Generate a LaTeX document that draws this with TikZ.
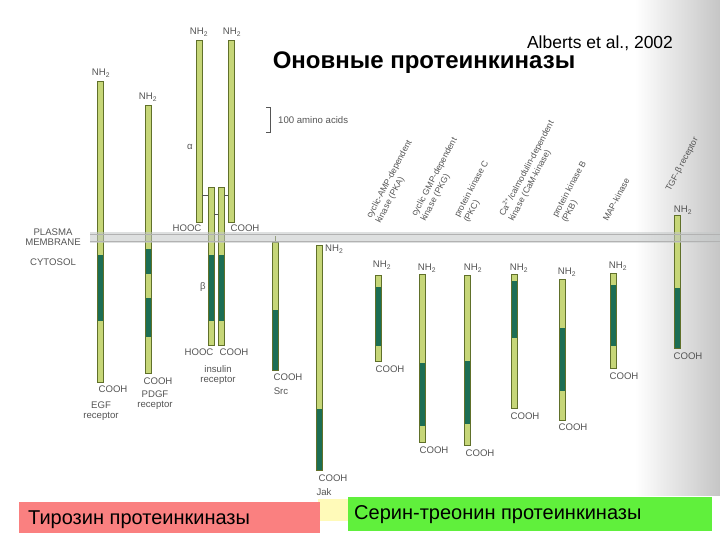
\documentclass[tikz,border=0pt]{standalone}
\usepackage{fontspec}
\setmainfont{Liberation Sans}
\definecolor{lightg}{RGB}{198,214,120}
\definecolor{edgeg}{RGB}{96,112,42}
\definecolor{darkg}{RGB}{28,110,84}
\definecolor{txtg}{RGB}{85,85,85}
\definecolor{redbox}{RGB}{250,128,128}
\definecolor{greenbox}{RGB}{96,240,60}
\definecolor{yellowbox}{RGB}{255,250,185}
\definecolor{membr}{RGB}{196,200,200}
\newcommand\kchain[4]{%
  \fill[lightg] (#1-3,#2) rectangle (#1+3,#3);
  \foreach \a/\b in {#4} {\fill[darkg] (#1-3,\a) rectangle (#1+3,\b);}
  \draw[edgeg, line width=0.6pt] (#1-3,#2) rectangle (#1+3,#3);}
\newcommand\kplain[3]{%
  \fill[lightg] (#1-3,#2) rectangle (#1+3,#3);
  \draw[edgeg, line width=0.6pt] (#1-3,#2) rectangle (#1+3,#3);}
\tikzset{
  lbl/.style={font=\fontsize{9.6}{10.6}\selectfont, text=txtg, inner sep=0pt},
  rlbl/.style={font=\fontsize{8.7}{10.5}\selectfont, text=txtg, inner sep=0pt, rotate=62, anchor=south west, align=left},
  bond/.style={draw=txtg, line width=0.5pt},
  boxtxt/.style={font=\fontsize{20}{22}\selectfont, text=black, inner sep=0pt, anchor=west}
}
\begin{document}
\begin{tikzpicture}[x=1pt,y=-1pt]
\useasboundingbox (0,0) rectangle (720,540);
\fill[white] (0,0) rectangle (720,540);
\shade[left color=white, right color=gray!45] (635,0) rectangle (720,495);
% titles
\node[font=\bfseries\fontsize{24}{27}\selectfont, inner sep=0pt] (title) at (424,63) {Оновные протеинкиназы};
\node[font=\fontsize{17.5}{20}\selectfont, inner sep=0pt] (ref) at (600,43) {Alberts et al., 2002};
% scale bar
\draw[txtg, line width=0.5pt] (266,107) -- (270,107) -- (270,132) -- (266,132);
\node[lbl, anchor=west] (scale) at (278,120) {100 amino acids};
% membrane labels
\node[lbl, align=center] (pm) at (53,237) {PLASMA\\MEMBRANE};
\node[lbl] (cyt) at (53,262) {CYTOSOL};
% EGF receptor
\kchain{100}{81}{382}{255/321}
\node[lbl] (egfn) at (101,73) {NH\textsubscript{2}};
\node[lbl] (egfc) at (113,389) {COOH};
\node[lbl, align=center] (egf) at (101,411) {EGF\\receptor};
% PDGF receptor
\kchain{148}{105}{373}{249/274,298/337}
\node[lbl] (pdgfn) at (148,97) {NH\textsubscript{2}};
\node[lbl] (pdgfc) at (158,381) {COOH};
\node[lbl, align=center] (pdgf) at (155,400) {PDGF\\receptor};
% insulin receptor
\kplain{199}{40}{222}
\kplain{231}{40}{222}
\kchain{211}{187}{345}{255/321}
\kchain{221}{187}{345}{255/321}
\draw[bond] (202,195) -- (208,195);
\draw[bond] (224,195) -- (228,195);
\draw[bond] (214,214) -- (218,214);
\node[lbl] (ian1) at (199,32) {NH\textsubscript{2}};
\node[lbl] (ian2) at (232,32) {NH\textsubscript{2}};
\node[lbl] (iac1) at (187,228) {HOOC};
\node[lbl] (iac2) at (245,228) {COOH};
\node[lbl] (alpha) at (190,147) {α};
\node[lbl] (beta) at (203,287) {β};
\node[lbl] (ibc1) at (199,352) {HOOC};
\node[lbl] (ibc2) at (234,352) {COOH};
\node[lbl, align=center] (ins) at (218,375) {insulin\\receptor};
% Src
\kchain{275}{242}{370}{310/370}
\draw[edgeg, line width=0.6pt] (275,236) -- (275,242);
\node[lbl] (srcc) at (288,377) {COOH};
\node[lbl] (src) at (281,391) {Src};
% Jak
\kchain{319}{245}{470}{409/470}
\node[lbl, anchor=west] (jakn) at (325,249) {NH\textsubscript{2}};
\node[lbl] (jakc) at (333,478) {COOH};
\node[lbl] (jak) at (324,492) {Jak};
% serine/threonine kinases
\kchain{378}{275}{361}{287/346}
\node[lbl] (pkan) at (382,265) {NH\textsubscript{2}};
\node[lbl] (pkac) at (390,369) {COOH};
\kchain{422}{274}{442}{363/426}
\node[lbl] (pkgn) at (427,268) {NH\textsubscript{2}};
\node[lbl] (pkgc) at (434,450) {COOH};
\kchain{467}{275}{445}{361/424}
\node[lbl] (pkcn) at (473,268) {NH\textsubscript{2}};
\node[lbl] (pkcc) at (480,453) {COOH};
\kchain{514}{274}{408}{281/338}
\node[lbl] (camn) at (519,268) {NH\textsubscript{2}};
\node[lbl] (camc) at (525,416) {COOH};
\kchain{562}{279}{420}{328/391}
\node[lbl] (pkbn) at (567,272) {NH\textsubscript{2}};
\node[lbl] (pkbc) at (573,427) {COOH};
\kchain{613}{273}{368}{285/346}
\node[lbl] (mapn) at (618,266) {NH\textsubscript{2}};
\node[lbl] (mapc) at (624,376) {COOH};
\kchain{677}{215}{348}{288/348}
\node[lbl] (tgfn) at (683,210) {NH\textsubscript{2}};
\node[lbl] (tgfc) at (688,356) {COOH};
% rotated kinase names
\node[rlbl] (pka) at (382,225) {cyclic-AMP-dependent\\kinase (PKA)};
\node[rlbl] (pkg) at (427,223) {cyclic GMP-dependent\\kinase (PKG)};
\node[rlbl] (pkc) at (470,224) {protein kinase C\\(PKC)};
\node[rlbl] (cam) at (515,223) {Ca\textsuperscript{2+}/calmodulin-dependent\\kinase (CaM-kinase)};
\node[rlbl] (pkb) at (568,224) {protein kinase B\\(PKB)};
\node[rlbl] (map) at (608,222) {MAP-kinase};
\node[rlbl] (tgf) at (672,193) {TGF-β receptor};
% membrane
\fill[membr, opacity=0.55] (90,232) rectangle (720,243);
\draw[gray!60, line width=0.8pt] (90,234) -- (720,234);
\draw[gray!60, line width=0.8pt] (90,241) -- (720,241);
% bottom boxes
\fill[yellowbox] (318,499) rectangle (348,521);
\fill[redbox] (19,502) rectangle (320,533);
\node[boxtxt] (tyr) at (28,520) {Тирозин протеинкиназы};
\fill[greenbox] (348,497) rectangle (712,531);
\node[boxtxt] (ser) at (354,515) {Серин-треонин протеинкиназы};
\end{tikzpicture}
\end{document}
